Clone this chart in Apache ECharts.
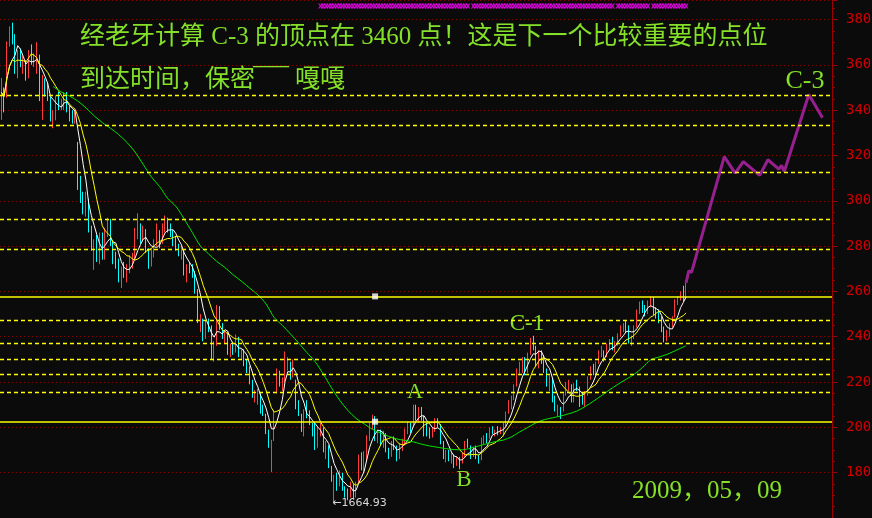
<!DOCTYPE html>
<html>
<head>
<meta charset="utf-8">
<title>C-3 顶点</title>
<script src="https://cdn.jsdelivr.net/npm/echarts@6/dist/echarts.min.js"></script>
<style>
  html, body { margin: 0; padding: 0; background: #0b0b0b; }
  #chart { width: 872px; height: 518px; }
</style>
</head>
<body>
<div id="chart"></div>
<script>
// 日K线 2008-04-28 ~ 2009-05-08, 每根 [open, close, low, high]
const candles = [
  [3400,3478,3357,3542],[3470,3444,3390,3500],[3470,3693,3455,3703],[3700,3761,3680,3770],[3765,3733,3690,3786],
  [3720,3580,3560,3735],[3560,3656,3540,3665],[3650,3613,3590,3672],[3590,3607,3560,3640],[3600,3560,3530,3620],
  [3560,3657,3540,3665],[3660,3627,3600,3690],[3620,3624,3590,3650],[3630,3651,3560,3700],[3640,3445,3440,3645],
  [3400,3535,3357,3555],[3510,3488,3460,3540],[3490,3473,3440,3520],[3450,3364,3350,3460],[3340,3375,3320,3400],
  [3370,3459,3355,3465],[3450,3433,3400,3480],[3420,3433,3400,3450],[3420,3459,3400,3480],[3460,3400,3390,3480],
  [3390,3375,3350,3420],[3370,3369,3340,3400],[3360,3379,3340,3395],[3250,3072,3048,3260],[3070,3024,2990,3110],
  [3010,2957,2940,3040],[2960,3023,2930,3040],[3000,2874,2860,3010],[2870,2794,2780,2890],[2790,2812,2695,2830],
  [2810,2748,2730,2850],[2750,2831,2720,2860],[2830,2760,2740,2860],[2750,2863,2740,2880],[2860,2905,2840,2925],
  [2900,2814,2800,2920],[2800,2748,2720,2820],[2750,2736,2700,2775],[2730,2651,2640,2745],[2640,2703,2615,2710],
  [2700,2690,2660,2730],[2680,2703,2640,2720],[2700,2741,2680,2760],[2740,2742,2700,2770],[2745,2856,2740,2880],
  [2850,2857,2830,2945],[2860,2837,2810,2900],[2840,2863,2820,2890],[2860,2780,2770,2875],[2770,2745,2700,2790],
  [2740,2776,2710,2790],[2770,2820,2750,2830],[2820,2850,2800,2900],[2850,2830,2790,2870],[2830,2880,2810,2900],
  [2880,2911,2860,2935],[2905,2880,2860,2925],[2880,2857,2840,2900],[2850,2830,2800,2870],[2830,2795,2780,2845],
  [2790,2775,2755,2810],[2770,2772,2740,2800],[2770,2680,2670,2780],[2660,2713,2640,2720],[2710,2700,2680,2730],
  [2700,2678,2660,2720],[2670,2605,2590,2690],[2600,2470,2460,2610],[2460,2470,2420,2500],[2470,2400,2380,2480],
  [2400,2451,2390,2470],[2460,2450,2420,2480],[2440,2319,2300,2450],[2310,2370,2290,2380],[2370,2523,2360,2540],
  [2510,2443,2430,2535],[2440,2405,2390,2460],[2400,2415,2370,2430],[2410,2336,2320,2420],[2330,2350,2310,2370],
  [2350,2343,2320,2370],[2340,2397,2330,2410],[2390,2325,2310,2400],[2320,2330,2300,2345],[2330,2280,2270,2345],
  [2275,2265,2240,2300],[2260,2202,2190,2270],[2200,2144,2130,2210],[2130,2140,2110,2165],[2140,2145,2100,2170],
  [2140,2079,2060,2150],[2090,2079,2050,2100],[2050,1986,1970,2060],[1980,1929,1910,1990],[1870,1895,1802,1945],
  [1950,2075,1940,2075],[2170,2237,2150,2260],[2230,2201,2180,2250],[2190,2202,2160,2220],[2210,2297,2200,2335],
  [2290,2293,2250,2310],[2280,2229,2210,2290],[2230,2293,2220,2300],[2200,2093,2080,2210],[2090,2074,2050,2120],
  [2050,2000,1980,2060],[1990,2073,1960,2080],[2090,2062,2040,2120],[2060,2028,2010,2075],[2000,1994,1960,2020],
  [1990,1930,1900,2020],[1920,1992,1910,2000],[1990,1995,1960,2020],[1990,1896,1890,2000],[1880,1920,1860,1940],
  [1910,1839,1820,1920],[1820,1772,1760,1830],[1750,1771,1664.93,1790],[1770,1763,1720,1800],[1770,1790,1740,1810],
  [1790,1728,1720,1800],[1720,1719,1690,1740],[1710,1706,1678,1730],[1700,1747,1690,1760],[1740,1694,1680,1750],
  [1700,1748,1690,1760],[1760,1874,1750,1880],[1860,1830,1810,1890],[1820,1887,1800,1895],[1880,1957,1850,1965],
  [1950,2009,1940,2020],[2010,2042,1990,2056],[2040,1957,1940,2050],[1950,1973,1930,1990],[1970,1940,1920,1990],
  [1930,1970,1910,1985],[1960,1897,1890,1975],[1890,1878,1860,1910],[1880,1936,1870,1940],[1940,1917,1900,1960],
  [1910,1871,1850,1920],[1870,1920,1860,1930],[1910,1939,1895,1950],[1940,1988,1920,1995],[1990,2003,1970,2025],
  [2010,2000,1975,2020],[2010,2092,2000,2100],[2090,2043,2030,2100],[2040,2071,2020,2090],[2070,2050,2030,2090],
  [2040,1997,1960,2050],[2000,1985,1960,2020],[1985,1980,1950,2000],[1980,1985,1955,2000],[1990,2022,1980,2041],
  [2025,2020,2000,2040],[2010,1937,1925,2015],[1930,1874,1860,1940],[1870,1890,1845,1900],[1890,1877,1850,1900],
  [1870,1876,1840,1890],[1870,1849,1821,1880],[1850,1857,1830,1870],[1860,1820,1815,1870],[1850,1882,1840,1890],
  [1880,1937,1870,1940],[1930,1926,1910,1950],[1910,1878,1860,1920],[1880,1904,1870,1915],[1910,1875,1860,1920],
  [1860,1850,1840,1880],[1860,1949,1855,1955],[1945,1950,1925,1965],[1955,1954,1930,1975],[1960,1990,1950,2000],
  [1990,1986,1970,2005],[1970,1980,1960,1990],[1990,1981,1965,2005],[1980,1990,1970,2000],[1990,2011,1960,2020],
  [2010,2060,2000,2070],[2070,2108,2060,2120],[2100,2124,2080,2140],[2125,2181,2120,2190],[2190,2246,2180,2260],
  [2250,2265,2230,2290],[2260,2299,2240,2310],[2290,2250,2230,2310],[2250,2320,2240,2330],[2330,2389,2320,2395],
  [2390,2365,2340,2404],[2340,2290,2270,2360],[2290,2320,2260,2340],[2320,2306,2280,2340],[2300,2261,2240,2320],
  [2250,2200,2180,2260],[2200,2206,2160,2230],[2210,2121,2110,2220],[2120,2082,2070,2140],[2080,2093,2050,2100],
  [2080,2071,2037,2090],[2080,2145,2070,2150],[2150,2180,2140,2200],[2180,2193,2160,2210],[2180,2124,2110,2190],
  [2120,2187,2110,2195],[2190,2174,2160,2210],[2170,2134,2090,2180],[2135,2128,2100,2150],[2120,2153,2090,2160],
  [2150,2218,2140,2225],[2220,2258,2210,2270],[2260,2244,2230,2280],[2240,2281,2230,2290],[2290,2330,2280,2340],
  [2330,2334,2310,2360],[2330,2321,2290,2340],[2320,2359,2310,2370],[2360,2374,2340,2390],[2380,2359,2340,2400],
  [2350,2373,2330,2380],[2370,2408,2360,2415],[2410,2439,2400,2450],[2440,2444,2420,2460],[2450,2446,2420,2470],
  [2440,2387,2370,2450],[2380,2390,2360,2405],[2400,2444,2390,2450],[2450,2513,2440,2520],[2515,2540,2500,2555],
  [2540,2525,2505,2560],[2520,2517,2490,2540],[2510,2545,2500,2560],[2550,2559,2530,2579],[2560,2506,2495,2575],
  [2500,2494,2480,2530],[2500,2480,2460,2520],[2470,2436,2420,2490],[2430,2400,2375,2445],[2395,2410,2380,2430],
  [2410,2450,2400,2460],[2455,2477,2440,2490],[2490,2559,2485,2565],[2560,2567,2540,2580],[2570,2590,2560,2600],
  [2600,2563,2555,2625],[2570,2600,2565,2637]
];

// 绿色长均线 (读图取点) [bar, value]
const ma60Points = [
  [19,3504],[22,3480],[25,3462],[28,3440],[31,3410],[34,3375],[37,3345],[40,3320],[43,3292],[46,3258],
  [49,3215],[52,3160],[55,3105],[58,3063],[61,3010],[64,2975],[67,2920],[70,2860],[73,2800],[76,2765],
  [79,2732],[82,2705],[85,2673],[88,2645],[91,2615],[94,2585],[97,2545],[100,2485],[103,2450],[106,2412],
  [109,2372],[112,2330],[115,2290],[118,2235],[121,2175],[124,2120],[127,2075],[130,2040],[133,2015],[136,1992],
  [139,1975],[142,1960],[145,1949],[148,1942],[151,1936],[154,1926],[157,1918],[160,1912],[163,1906],[166,1902],
  [169,1901],[172,1908],[175,1918],[178,1928],[181,1937],[184,1944],[187,1958],[190,1980],[193,2000],[196,2020],
  [199,2034],[202,2042],[205,2050],[208,2060],[211,2072],[214,2092],[217,2115],[220,2140],[223,2166],[226,2190],
  [229,2212],[232,2234],[235,2264],[238,2298],[241,2310],[244,2322],[247,2338],[250,2355],[251,2360]
];

// 紫色预测线 [bar, value]
const projection = [
  [251,2637],[252,2691],[253,2684],[265,3195],[269,3122],[272,3173],[278,3112],
  [281,3181],[285,3140],[286,3156],[287,3129],[296,3469],[301,3366]
];

const dashedLevels = [3466, 3334, 3127, 2919, 2787, 2472, 2369, 2301, 2235, 2156];
const solidLevels = [2578, 2025];
const handlePoints = [[137, 2578], [137, 2025]];
const signalRanges = [[117, 171], [173, 224], [226, 237], [239, 251]];
const lowPoint = [122, 1664.93];
const slotCount = 305;
const yMin = 1600, yMax = 3886;

const slots = Array.from({ length: slotCount }, (_, i) => String(i + 1));

function movingAverage(n) {
  return candles.map((c, i) => {
    const from = Math.max(0, i - n + 1);
    let sum = 0;
    for (let k = from; k <= i; k++) sum += candles[k][1];
    return +(sum / (i - from + 1)).toFixed(2);
  });
}

const signalData = [];
signalRanges.forEach(([a, b]) => {
  for (let i = a; i <= b; i++) signalData.push([i, yMax]);
});

const green = '#84e028';
const latin = "'Liberation Serif', 'Noto Sans CJK SC', serif";
const levelColor = '#ffff00';

const levelLines = dashedLevels.map(v => ({
  yAxis: v, lineStyle: { color: levelColor, width: 1.4, type: [4, 3], opacity: 1 }
})).concat(solidLevels.map(v => ({
  yAxis: v, lineStyle: { color: levelColor, width: 1.5, type: 'solid', opacity: 1 }
})));

const chart = echarts.init(document.getElementById('chart'));
const option = {
  backgroundColor: '#0b0b0b',
  animation: false,
  grid: { left: 0, right: 40, top: 0, bottom: 0, outerBoundsMode: 'none', containLabel: false },
  xAxis: {
    type: 'category',
    data: slots,
    boundaryGap: true,
    axisLine: { show: false },
    axisTick: { show: false },
    axisLabel: { show: false },
    splitLine: { show: false }
  },
  yAxis: {
    type: 'value',
    position: 'right',
    min: yMin,
    max: yMax,
    interval: 200,
    axisLine: { show: true, lineStyle: { color: '#990000', width: 1 } },
    axisTick: { show: true, length: 5, lineStyle: { color: '#990000' } },
    minorTick: { show: true, splitNumber: 4, length: 3, lineStyle: { color: '#990000' } },
    axisLabel: {
      color: '#d00000',
      fontFamily: 'DejaVu Sans Mono',
      fontSize: 14,
      margin: 14,
      showMinLabel: false,
      showMaxLabel: false,
      formatter: v => String(v)
    },
    splitLine: { show: true, lineStyle: { color: '#8a0000', width: 1, type: [1, 3] } }
  },
  series: [
    {
      // 黄色压力/支撑线
      name: 'levels',
      type: 'line',
      data: [],
      silent: true,
      itemStyle: { color: levelColor },
      lineStyle: { color: levelColor },
      markLine: {
        silent: true,
        symbol: ['none', 'none'],
        label: { show: false },
        lineStyle: { color: levelColor, opacity: 1 },
        emphasis: { disabled: true },
        data: levelLines
      },
      z: 1
    },
    {
      name: 'K',
      type: 'candlestick',
      data: candles,
      barWidth: 1,
      itemStyle: {
        color: '#ff3c3c', color0: '#00ffff',
        borderColor: '#ff3c3c', borderColor0: '#00ffff', borderWidth: 1
      },
      markPoint: {
        silent: true,
        symbol: 'circle',
        symbolSize: 0,
        data: [{
          coord: lowPoint,
          label: {
            show: true,
            position: 'right',
            distance: -2,
            formatter: '←' + lowPoint[1].toFixed(2),
            color: '#d8d8d8',
            fontFamily: 'DejaVu Sans',
            fontSize: 11
          }
        }]
      },
      z: 2
    },
    {
      name: 'MA5', type: 'line', data: movingAverage(5), symbol: 'none',
      lineStyle: { color: '#ffffff', width: 1 }, z: 3
    },
    {
      name: 'MA10', type: 'line', data: movingAverage(10), symbol: 'none',
      lineStyle: { color: '#ffff00', width: 1 }, z: 3
    },
    {
      name: 'MA60', type: 'line', data: ma60Points, symbol: 'none', smooth: 0.3,
      lineStyle: { color: '#00e400', width: 1 }, z: 3
    },
    {
      name: 'C-3', type: 'line', data: projection, symbol: 'none',
      lineStyle: { color: '#97208f', width: 3 }, z: 4
    },
    {
      name: 'handle', type: 'scatter', data: handlePoints, symbol: 'rect', symbolSize: 6,
      itemStyle: { color: '#ffffff' }, z: 5
    },
    {
      name: 'signal', type: 'scatter', data: signalData, symbolSize: 5, symbolOffset: [0, 6],
      symbol: 'path://M0,0L1,0L2,1L3,0L4,0L2.6,2L4,4L3,4L2,3L1,4L0,4L1.4,2Z',
      itemStyle: { color: '#ff00ff' }, z: 5
    }
  ],
  graphic: [
    {
      type: 'text', left: 80, top: 25,
      style: { text: '经老牙计算 C-3 的顶点在 3460 点！这是下一个比较重要的点位', fill: green, font: '25px ' + latin }
    },
    {
      type: 'text', left: 80, top: 68,
      style: { text: '到达时间，保密', fill: green, font: '25px ' + latin }
    },
    {
      type: 'text', left: 253, top: 57,
      style: { text: '——', fill: green, font: 'bold 18px ' + latin }
    },
    {
      type: 'text', left: 295, top: 68,
      style: { text: '嘎嘎', fill: green, font: '25px ' + latin }
    },
    {
      type: 'text', x: 805, y: 81,
      style: { text: 'C-3', fill: green, font: '26px ' + latin, align: 'center', verticalAlign: 'middle' }
    },
    {
      type: 'text', x: 527, y: 324,
      style: { text: 'C-1', fill: green, font: '23px ' + latin, align: 'center', verticalAlign: 'middle' }
    },
    {
      type: 'text', x: 415, y: 392,
      style: { text: 'A', fill: green, font: '22px ' + latin, align: 'center', verticalAlign: 'middle' }
    },
    {
      type: 'text', x: 464, y: 480,
      style: { text: 'B', fill: green, font: '23px ' + latin, align: 'center', verticalAlign: 'middle' }
    },
    {
      type: 'text', x: 632, y: 491,
      style: { text: '2009，05，09', fill: green, font: '25px ' + latin, align: 'left', verticalAlign: 'middle' }
    }
  ]
};
chart.setOption(option);
window.addEventListener('resize', () => chart.resize());
</script>
</body>
</html>
